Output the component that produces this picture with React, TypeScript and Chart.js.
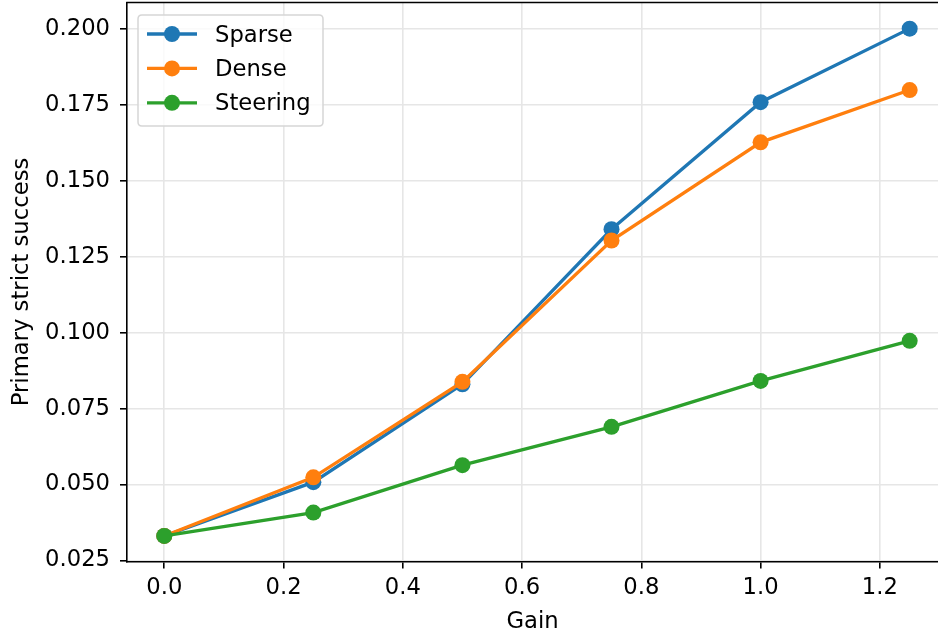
import React, { useEffect, useRef } from "react";
import { Chart, registerables } from "chart.js";

Chart.register(...registerables);

const GAIN = [0, 0.25, 0.5, 0.75, 1.0, 1.25];
const SPARSE = [0.0331, 0.0508, 0.083, 0.134, 0.1758, 0.2];
const DENSE = [0.0331, 0.0524, 0.0838, 0.1303, 0.1626, 0.1798];
const STEERING = [0.0331, 0.0408, 0.0564, 0.069, 0.0841, 0.0973];
const SERIES_NAMES = ["Sparse", "Dense", "Steering"];
const SERIES_COLORS = ["#1f77b4", "#ff7f0e", "#2ca02c"];
const X_TICKS = [0, 0.2, 0.4, 0.6, 0.8, 1.0, 1.2];
const Y_TICKS = [0.025, 0.05, 0.075, 0.1, 0.125, 0.15, 0.175, 0.2];
const X_LABEL = "Gain";
const Y_LABEL = "Primary strict success";

const W = 938;
const H = 636;
const FONT = "DejaVu Sans";
const FS = 22.7;

const topSpine = {
  id: "topSpine",
  afterDraw(chart: any) {
    const { ctx, chartArea } = chart;
    ctx.save();
    ctx.strokeStyle = "#000";
    ctx.lineWidth = 1.6;
    ctx.beginPath();
    ctx.moveTo(chartArea.left - 0.8, chartArea.top);
    ctx.lineTo(chartArea.right + 2, chartArea.top);
    ctx.stroke();
    ctx.restore();
  },
};

const mplLegend = {
  id: "mplLegend",
  afterDraw(chart: any) {
    const { ctx } = chart;
    const x0 = 138, y0 = 15, x1 = 323, y1 = 126, r = 4;
    ctx.save();
    ctx.beginPath();
    ctx.moveTo(x0 + r, y0);
    ctx.lineTo(x1 - r, y0);
    ctx.quadraticCurveTo(x1, y0, x1, y0 + r);
    ctx.lineTo(x1, y1 - r);
    ctx.quadraticCurveTo(x1, y1, x1 - r, y1);
    ctx.lineTo(x0 + r, y1);
    ctx.quadraticCurveTo(x0, y1, x0, y1 - r);
    ctx.lineTo(x0, y0 + r);
    ctx.quadraticCurveTo(x0, y0, x0 + r, y0);
    ctx.closePath();
    ctx.fillStyle = "rgba(255,255,255,0.8)";
    ctx.fill();
    ctx.strokeStyle = "#d6d6d6";
    ctx.lineWidth = 1.5;
    ctx.stroke();
    chart.data.datasets.forEach((ds: any, i: number) => {
      const cy = 34 + i * 34.4;
      ctx.strokeStyle = ds.borderColor;
      ctx.lineWidth = 3.3;
      ctx.beginPath();
      ctx.moveTo(147, cy);
      ctx.lineTo(197, cy);
      ctx.stroke();
      ctx.fillStyle = ds.backgroundColor;
      ctx.beginPath();
      ctx.arc(172, cy, 8, 0, Math.PI * 2);
      ctx.fill();
      ctx.fillStyle = "#000";
      ctx.font = `${FS}px "${FONT}"`;
      ctx.textAlign = "left";
      ctx.textBaseline = "alphabetic";
      ctx.fillText(ds.label, 215, cy + 7.6);
    });
    ctx.restore();
  },
};

export default function App() {
  const ref = useRef<HTMLCanvasElement | null>(null);
  useEffect(() => {
    if (!ref.current) return;
    Chart.defaults.font.family = FONT;
    Chart.defaults.font.size = FS;
    Chart.defaults.color = "#000";
    const seriesValues = [SPARSE, DENSE, STEERING];
    const chart = new Chart(ref.current, {
      type: "line",
      data: {
        datasets: seriesValues.map((vals, i) => ({
          label: SERIES_NAMES[i],
          data: GAIN.map((g, j) => ({ x: g, y: vals[j] })),
          borderColor: SERIES_COLORS[i],
          backgroundColor: SERIES_COLORS[i],
          pointBackgroundColor: SERIES_COLORS[i],
          pointBorderWidth: 0,
          pointRadius: 8,
          borderWidth: 3.3,
          tension: 0,
          order: 2 - i,
        })),
      },
      options: {
        responsive: false,
        animation: false,
        events: [],
        layout: { autoPadding: false, padding: { top: 2.5, left: 0, right: 0, bottom: 0 } },
        plugins: {
          legend: { display: false },
          tooltip: { enabled: false },
        },
        scales: {
          x: {
            type: "linear",
            min: -0.0625,
            max: 1.2975,
            afterBuildTicks: (s: any) => {
              s.ticks = X_TICKS.map((v) => ({ value: v }));
            },
            afterFit: (s: any) => {
              s.height = 74.5;
              s.paddingLeft = 0;
              s.paddingRight = 0;
              s.paddingTop = 0;
              s.paddingBottom = 0;
            },
            ticks: {
              callback: (v: any) => Number(v).toFixed(1),
              padding: 6,
              maxRotation: 0,
              autoSkip: false,
              font: { size: FS },
            },
            grid: {
              color: "#e6e6e6",
              lineWidth: 1.6,
              tickColor: "#000",
              tickLength: 7,
              tickWidth: 1.6,
            },
            border: { color: "#000", width: 1.6 },
            title: {
              display: true,
              text: X_LABEL,
              font: { size: FS },
              padding: { top: 0, bottom: 0 },
            },
          },
          y: {
            type: "linear",
            min: 0.0247,
            max: 0.2086,
            afterBuildTicks: (s: any) => {
              s.ticks = Y_TICKS.map((v) => ({ value: v }));
            },
            afterFit: (s: any) => {
              s.width = 127;
              s.paddingLeft = 0;
              s.paddingRight = 0;
              s.paddingTop = 0;
              s.paddingBottom = 0;
            },
            ticks: {
              callback: (v: any) => Number(v).toFixed(3),
              padding: 10,
              autoSkip: false,
              font: { size: FS },
            },
            grid: {
              color: "#e6e6e6",
              lineWidth: 1.6,
              tickColor: "#000",
              tickLength: 7,
              tickWidth: 1.6,
            },
            border: { color: "#000", width: 1.6 },
            title: {
              display: true,
              text: Y_LABEL,
              font: { size: FS },
              padding: { top: 8, bottom: 0 },
            },
          },
        },
      },
      plugins: [topSpine, mplLegend],
    });
    return () => chart.destroy();
  }, []);
  return (
    <div style={{ position: "fixed", left: 0, top: 0, width: W, height: H, background: "#fff" }}>
      <canvas ref={ref} width={W} height={H} style={{ display: "block" }} />
    </div>
  );
}
